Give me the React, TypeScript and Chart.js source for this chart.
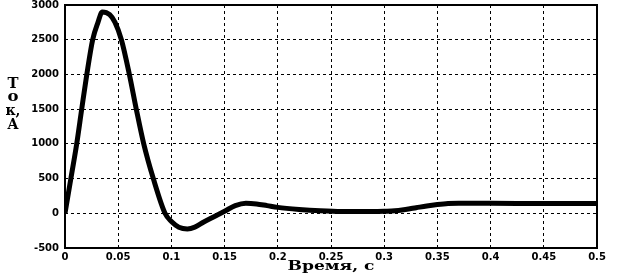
import React, { useEffect, useRef } from 'react';
import { Chart, registerables } from 'chart.js';

Chart.register(...registerables);

const timeS = [
  0, 0.0055, 0.011, 0.0157, 0.0205, 0.026, 0.031, 0.035, 0.042, 0.047, 0.053,
  0.0605, 0.067, 0.074, 0.083, 0.094, 0.1, 0.107, 0.115, 0.122, 0.13, 0.14,
  0.15, 0.16, 0.17, 0.18, 0.19, 0.2, 0.22, 0.24, 0.26, 0.28, 0.3, 0.31, 0.32,
  0.33, 0.34, 0.35, 0.36, 0.37, 0.4, 0.45, 0.5,
];
const currentA = [
  0, 500, 1000, 1500, 2000, 2500, 2750, 2900, 2860, 2750, 2500,
  2000, 1500, 1000, 500, 0, -120, -200, -225, -200, -130, -50,
  30, 110, 145, 135, 110, 85, 55, 35, 25, 25, 30, 35, 55,
  80, 105, 125, 140, 145, 145, 140, 140,
];
const yTitleLines = ['Т', 'о', 'к,', 'А'];
const xTitle = 'Время, с';
const yTicksMin = -500;
const yTicksMax = 3000;
const yStep = 500;
const xMin = 0;
const xMax = 0.5;
const xStep = 0.05;

export default function App() {
  const ref = useRef<HTMLCanvasElement>(null);
  useEffect(() => {
    document.body.style.margin = '0';
    const canvas = ref.current!;
    const decor = {
      id: 'decor',
      afterDraw(chart: any) {
        const { ctx, chartArea: a } = chart;
        ctx.save();
        ctx.strokeStyle = '#000';
        ctx.lineWidth = 2;
        ctx.strokeRect(a.left, a.top, a.right - a.left, a.bottom - a.top);
        ctx.fillStyle = '#000';
        ctx.textAlign = 'center';
        ctx.textBaseline = 'middle';
        ctx.font = 'bold 14px "DejaVu Serif"';
        yTitleLines.forEach((s, i) => {
          const w = ctx.measureText(s).width;
          ctx.save();
          ctx.translate(13, 84 + i * 13.7);
          ctx.scale(Math.max(1, (s.length > 1 ? 15 : 11) / w), 1);
          ctx.fillText(s, 0, 0);
          ctx.restore();
        });
        ctx.font = 'bold 12px "DejaVu Serif"';
        const w = ctx.measureText(xTitle).width;
        const sx = 87 / w;
        ctx.translate((a.left + a.right) / 2, 267);
        ctx.scale(sx, 1);
        ctx.fillText(xTitle, 0, 0);
        ctx.restore();
      },
    };
    const chart = new Chart(canvas, {
      type: 'line',
      data: {
        datasets: [
          {
            data: timeS.map((t, i) => ({ x: t, y: currentA[i] })),
            borderColor: '#000',
            borderWidth: 5,
            pointRadius: 0,
            fill: false,
            cubicInterpolationMode: 'monotone',
          },
        ],
      },
      options: {
        animation: false,
        responsive: false,
        layout: { padding: { left: 0, right: 22, top: 5, bottom: 0 } },
        plugins: { legend: { display: false }, tooltip: { enabled: false } },
        scales: {
          x: {
            type: 'linear',
            min: xMin,
            max: xMax,
            afterFit: (s: any) => { s.height = 27; s.paddingLeft = 0; s.paddingRight = 0; },
            ticks: {
              stepSize: xStep,
              color: '#000',
              padding: 3,
              maxRotation: 0,
              autoSkip: false,
              font: { family: 'DejaVu Sans', size: 10, weight: 'bold' },
              callback: (v: any) => String(Number(Number(v).toFixed(2))),
            },
            grid: { color: '#000', lineWidth: 1, drawTicks: false },
            border: { display: false, dash: [3, 3] },
          },
          y: {
            min: yTicksMin,
            max: yTicksMax,
            afterFit: (s: any) => { s.width = 65; s.paddingTop = 0; s.paddingBottom = 0; },
            ticks: {
              stepSize: yStep,
              color: '#000',
              padding: 6,
              autoSkip: false,
              font: { family: 'DejaVu Sans', size: 10, weight: 'bold' },
              callback: (v: any) => String(Number(v)),
            },
            grid: { color: '#000', lineWidth: 1, drawTicks: false },
            border: { display: false, dash: [3, 3] },
          },
        },
      },
      plugins: [decor],
    } as any);
    return () => chart.destroy();
  }, []);
  return (
    <div style={{ width: 619, height: 275 }}>
      <canvas ref={ref} width={619} height={275} />
    </div>
  );
}
